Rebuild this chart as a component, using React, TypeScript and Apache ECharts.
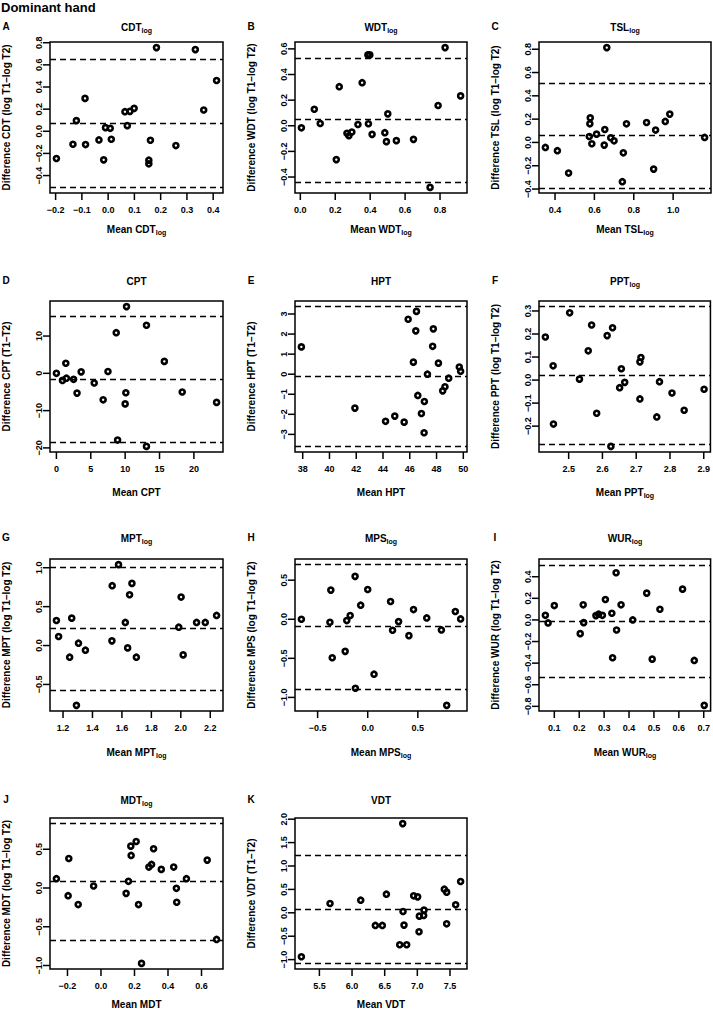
import React, { useEffect, useRef } from "react";
import * as echarts from "echarts";

// ---------- DATA ----------
// A: CDT (log)
const cdtMean = [-0.197, -0.134, -0.121, -0.088, -0.086, -0.035, -0.017, -0.01, 0.008, 0.012, 0.064, 0.073, 0.083, 0.099, 0.155, 0.155, 0.161, 0.184, 0.258, 0.332, 0.364, 0.413];
const cdtDiff = [-0.246, -0.117, 0.096, 0.297, -0.12, -0.078, -0.258, 0.033, 0.027, -0.072, 0.177, 0.051, 0.18, 0.207, -0.261, -0.294, -0.081, 0.756, -0.129, 0.738, 0.192, 0.459];
const cdtLoA = [0.648, 0.072, -0.507];
const cdtXTicks = [-0.2, -0.1, 0, 0.1, 0.2, 0.3, 0.4];
const cdtYTicks = [-0.4, -0.2, 0, 0.2, 0.4, 0.6, 0.8];

// B: WDT (log)
const wdtMean = [0.006, 0.08, 0.114, 0.206, 0.223, 0.267, 0.278, 0.295, 0.33, 0.354, 0.387, 0.398, 0.39, 0.411, 0.484, 0.493, 0.501, 0.55, 0.648, 0.743, 0.789, 0.829, 0.918];
const wdtDiff = [-0.016, 0.129, 0.018, -0.264, 0.305, -0.059, -0.078, -0.049, 0.01, 0.336, 0.553, 0.553, 0.016, -0.067, -0.054, -0.124, 0.093, -0.116, -0.106, -0.481, 0.158, 0.61, 0.233];
const wdtLoA = [0.532, 0.052, -0.439];
const wdtXTicks = [0, 0.2, 0.4, 0.6, 0.8];
const wdtYTicks = [-0.4, -0.2, 0, 0.2, 0.4, 0.6];

// C: TSL (log)
const tslMean = [0.351, 0.412, 0.469, 0.579, 0.577, 0.574, 0.587, 0.611, 0.663, 0.653, 0.65, 0.683, 0.7, 0.763, 0.747, 0.742, 0.865, 0.911, 0.901, 0.96, 0.983, 1.16];
const tslDiff = [-0.043, -0.071, -0.263, 0.211, 0.16, 0.051, -0.011, 0.071, 0.814, 0.111, -0.023, 0.04, 0.014, 0.16, -0.089, -0.337, 0.171, 0.106, -0.229, 0.18, 0.243, 0.043];
const tslLoA = [0.506, 0.063, -0.386];
const tslXTicks = [0.4, 0.6, 0.8, 1.0];
const tslYTicks = [-0.4, -0.2, 0, 0.2, 0.4, 0.6, 0.8];

// D: CPT
const cptMean = [0, 0.88, 1.37, 1.46, 2.5, 3.0, 3.6, 5.5, 6.8, 7.5, 8.7, 8.9, 10.0, 10.1, 10.2, 13.1, 13.1, 15.7, 18.3, 23.3];
const cptDiff = [0, -1.9, 2.7, -1.3, -1.6, -5.3, 0.4, -2.6, -7.1, 0.5, 10.9, -17.9, -8.2, -5.2, 17.9, 12.9, -19.6, 3.2, -5.0, -7.8];
const cptLoA = [15.3, -1.6, -18.4];
const cptXTicks = [0, 5, 10, 15, 20];
const cptYTicks = [-20, -10, 0, 10];

// E: HPT
const hptMean = [37.9, 41.9, 44.19, 44.88, 45.58, 45.88, 46.27, 46.45, 46.5, 46.6, 46.87, 47.07, 47.09, 47.32, 47.71, 47.76, 48.14, 48.46, 48.63, 48.91, 49.7, 49.8];
const hptDiff = [1.36, -1.69, -2.35, -2.09, -2.39, 2.74, 0.6, 2.16, 3.13, -1.06, -1.96, -2.92, -1.36, 0.0, 1.39, 2.26, 0.55, -0.83, -0.63, -0.2, 0.36, 0.15];
const hptLoA = [3.37, -0.12, -3.6];
const hptXTicks = [38, 40, 42, 44, 46, 48, 50];
const hptYTicks = [-3, -2, -1, 0, 1, 2, 3];

// F: PPT (log)
const pptMean = [2.431, 2.454, 2.455, 2.503, 2.532, 2.558, 2.568, 2.583, 2.614, 2.63, 2.625, 2.651, 2.656, 2.666, 2.711, 2.714, 2.711, 2.761, 2.769, 2.806, 2.842, 2.901];
const pptDiff = [0.187, 0.062, -0.191, 0.292, 0.004, 0.127, 0.239, -0.144, 0.193, 0.227, -0.288, -0.033, 0.049, -0.01, 0.079, 0.098, -0.082, -0.16, -0.007, -0.056, -0.131, -0.04];
const pptLoA = [0.319, 0.019, -0.282];
const pptXTicks = [2.5, 2.6, 2.7, 2.8, 2.9];
const pptYTicks = [-0.2, -0.1, 0, 0.1, 0.2, 0.3];

// G: MPT (log)
const mptMean = [1.155, 1.17, 1.245, 1.259, 1.291, 1.305, 1.352, 1.534, 1.532, 1.577, 1.623, 1.639, 1.652, 1.668, 1.698, 1.986, 2.002, 2.016, 2.107, 2.166, 2.243];
const mptDiff = [0.322, 0.116, -0.15, 0.352, -0.769, 0.03, -0.06, 0.769, 0.06, 1.04, 0.297, -0.03, 0.653, 0.799, -0.15, 0.236, 0.623, -0.12, 0.297, 0.297, 0.387];
const mptLoA = [1.014, 0.223, -0.567];
const mptXTicks = [1.2, 1.4, 1.6, 1.8, 2.0, 2.2];
const mptYTicks = [-0.5, 0, 0.5, 1.0];

// H: MPS (log)
const mpsMean = [-0.662, -0.377, -0.368, -0.354, -0.225, -0.209, -0.175, -0.126, -0.123, -0.07, 0.0, 0.063, 0.228, 0.248, 0.308, 0.411, 0.457, 0.589, 0.735, 0.788, 0.874, 0.927];
const mpsDiff = [0.0, -0.039, 0.373, -0.493, -0.411, -0.017, 0.047, 0.549, -0.883, 0.18, 0.381, -0.703, 0.227, -0.141, -0.03, -0.21, 0.124, 0.017, -0.137, -1.102, 0.099, 0.004];
const mpsLoA = [0.699, -0.094, -0.896];
const mpsXTicks = [-0.5, 0, 0.5];
const mpsYTicks = [-1.0, -0.5, 0, 0.5];

// I: WUR (log)
const wurMean = [0.064, 0.075, 0.1, 0.204, 0.216, 0.218, 0.267, 0.278, 0.293, 0.305, 0.331, 0.334, 0.348, 0.35, 0.368, 0.415, 0.471, 0.493, 0.524, 0.615, 0.662, 0.702];
const wurDiff = [0.043, -0.028, 0.133, -0.127, 0.14, -0.025, 0.04, 0.053, 0.043, 0.189, 0.062, -0.35, 0.437, -0.093, 0.14, 0.0, 0.248, -0.363, 0.099, 0.285, -0.375, -0.791];
const wurLoA = [0.512, -0.009, -0.533];
const wurXTicks = [0.1, 0.2, 0.3, 0.4, 0.5, 0.6, 0.7];
const wurYTicks = [-0.8, -0.6, -0.4, -0.2, 0, 0.2, 0.4];

// J: MDT (log)
const mdtMean = [-0.266, -0.192, -0.196, -0.136, -0.044, 0.15, 0.164, 0.178, 0.18, 0.21, 0.224, 0.242, 0.286, 0.302, 0.314, 0.36, 0.434, 0.45, 0.452, 0.51, 0.634, 0.69];
const mdtDiff = [0.12, 0.381, -0.099, -0.214, 0.026, -0.069, 0.086, 0.54, 0.42, 0.6, -0.214, -0.973, 0.27, 0.304, 0.506, 0.24, 0.27, -0.004, -0.184, 0.12, 0.36, -0.664];
const mdtLoA = [0.831, 0.086, -0.669];
const mdtXTicks = [-0.2, 0, 0.2, 0.4, 0.6];
const mdtYTicks = [-1.0, -0.5, 0, 0.5];

// K: VDT
const vdtMean = [5.224, 5.663, 6.133, 6.357, 6.464, 6.526, 6.73, 6.776, 6.781, 6.796, 6.837, 6.944, 7.005, 7.026, 7.031, 7.097, 7.102, 7.413, 7.449, 7.449, 7.587, 7.663];
const vdtDiff = [-0.939, 0.199, 0.27, -0.27, -0.27, 0.398, -0.683, 1.906, 0.028, -0.263, -0.683, 0.363, 0.341, -0.405, -0.071, -0.057, 0.057, 0.505, 0.441, -0.235, 0.171, 0.669];
const vdtLoA = [1.216, 0.071, -1.081];
const vdtXTicks = [5.5, 6.0, 6.5, 7.0, 7.5];
const vdtYTicks = [-1.0, -0.5, 0, 0.5, 1.0, 1.5, 2.0];

const panelLetters = ["A", "B", "C", "D", "E", "F", "G", "H", "I", "J", "K"];
const panelTitles = ["CDT", "WDT", "TSL", "CPT", "HPT", "PPT", "MPT", "MPS", "WUR", "MDT", "VDT"];
const titleSubs = ["log", "log", "log", "", "", "log", "log", "log", "log", "log", ""];
const xNameSubs = ["log", "log", "log", "", "", "log", "log", "log", "log", "", ""];
const yNames = [
  "Difference CDT (log T1–log T2)",
  "Difference WDT (log T1–log T2)",
  "Difference TSL (log T1–log T2)",
  "Difference CPT (T1–T2)",
  "Difference HPT (T1–T2)",
  "Difference PPT (log T1–log T2)",
  "Difference MPT (log T1–log T2)",
  "Difference MPS (log T1–log T2)",
  "Difference WUR (log T1–log T2)",
  "Difference MDT (log T1–log T2)",
  "Difference VDT (T1–T2)",
];
const xDecimals = [1, 1, 1, 0, 0, 1, 1, 1, 1, 1, 1];
const yDecimals = [1, 1, 1, 0, 0, 1, 1, 1, 1, 1, 1];

const means = [cdtMean, wdtMean, tslMean, cptMean, hptMean, pptMean, mptMean, mpsMean, wurMean, mdtMean, vdtMean];
const diffs = [cdtDiff, wdtDiff, tslDiff, cptDiff, hptDiff, pptDiff, mptDiff, mpsDiff, wurDiff, mdtDiff, vdtDiff];
const loas = [cdtLoA, wdtLoA, tslLoA, cptLoA, hptLoA, pptLoA, mptLoA, mpsLoA, wurLoA, mdtLoA, vdtLoA];
const xTickSets = [cdtXTicks, wdtXTicks, tslXTicks, cptXTicks, hptXTicks, pptXTicks, mptXTicks, mpsXTicks, wurXTicks, mdtXTicks, vdtXTicks];
const yTickSets = [cdtYTicks, wdtYTicks, tslYTicks, cptYTicks, hptYTicks, pptYTicks, mptYTicks, mpsYTicks, wurYTicks, mdtYTicks, vdtYTicks];

// ---------- LAYOUT ----------
const W = 713;
const H = 1012;
const colLeft = [50, 295, 539];
const colWidth = [173, 172, 172];
const rowTop = [42, 301, 559, 818];
const rowHeight = [151, 151, 152, 151];
const titleY = [27, 281, 538, 800];
const xNameY = [229, 492, 752, 1004];
const TICK_LEN = 7;
const FONT = '"Liberation Sans", Arial, Helvetica, sans-serif';

function padRange(vals: number[]): [number, number] {
  const lo = Math.min(...vals);
  const hi = Math.max(...vals);
  const e = (hi - lo) * 0.04;
  return [lo - e, hi + e];
}

function fmt(v: number, dec: number): string {
  const s = Math.abs(v) < 1e-9 ? (0).toFixed(dec) : v.toFixed(dec);
  return s.replace("-", "\u2212");
}

function subText(main: string, sub: string, size: number, subSize: number) {
  return {
    text: sub ? `{m|${main}}{s|${sub}}` : `{m|${main}}`,
    rich: {
      m: { fontSize: size, fontWeight: "bold", fontFamily: FONT, fill: "#000", lineHeight: 14 },
      s: { fontSize: subSize, fontWeight: "bold", fontFamily: FONT, fill: "#000", lineHeight: 7, verticalAlign: "bottom" },
    },
  };
}

function buildOption() {
  const grids: any[] = [];
  const xAxes: any[] = [];
  const yAxes: any[] = [];
  const series: any[] = [];
  const graphics: any[] = [];

  graphics.push({
    type: "text",
    x: 1,
    y: 7,
    style: { text: "Dominant hand", fontSize: 13, fontWeight: "bold", fontFamily: FONT, fill: "#000", align: "left", verticalAlign: "middle" },
  });

  for (let i = 0; i < 11; i++) {
    const r = Math.floor(i / 3);
    const c = i % 3;
    const left = colLeft[c];
    const width = colWidth[c];
    const top = rowTop[r];
    const height = rowHeight[r];
    const [xmin, xmax] = padRange(means[i]);
    const [ymin, ymax] = padRange([...diffs[i], ...loas[i]]);
    const xd = xDecimals[i];
    const yd = yDecimals[i];

    grids.push({ left, top, width, height, show: true, borderColor: "#000", borderWidth: 1.5, backgroundColor: "transparent" });

    xAxes.push({
      type: "value",
      gridIndex: i,
      position: "bottom",
      min: xmin,
      max: xmax,
      axisLine: { show: false, onZero: false },
      splitLine: { show: false },
      axisTick: { show: false },
      axisLabel: {
        customValues: xTickSets[i],
        formatter: (v: number) => fmt(v, xd),
        margin: 12,
        color: "#000",
        fontSize: 9,
        fontWeight: "bold",
        fontFamily: FONT,
      },
    });
    yAxes.push({
      type: "value",
      gridIndex: i,
      position: "left",
      min: ymin,
      max: ymax,
      axisLine: { show: false, onZero: false },
      splitLine: { show: false },
      axisTick: { show: false },
      axisLabel: {
        customValues: yTickSets[i],
        formatter: (v: number) => fmt(v, yd),
        rotate: 90,
        margin: 7,
        color: "#000",
        fontSize: 9,
        fontWeight: "bold",
        fontFamily: FONT,
      },
    });

    series.push({
      type: "scatter",
      xAxisIndex: i,
      yAxisIndex: i,
      data: means[i].map((m, k) => [m, diffs[i][k]]),
      symbol: "circle",
      symbolSize: 5,
      itemStyle: { color: "rgba(0,0,0,0)", borderColor: "#000", borderWidth: 2.6, opacity: 1 },
      silent: true,
      z: 3,
      markLine: {
        silent: true,
        symbol: ["none", "none"],
        label: { show: false },
        lineStyle: { color: "#000", type: [6, 4], width: 1.3, opacity: 1 },
        emphasis: { disabled: true },
        data: loas[i].map((v) => ({ yAxis: v })),
      },
    });

    const cx = left + width / 2;
    const cy = top + height / 2;
    const labelX = left - 44;

    graphics.push({
      type: "text",
      x: labelX,
      y: titleY[r] - 1,
      style: { text: panelLetters[i], fontSize: 10, fontWeight: "bold", fontFamily: FONT, fill: "#000", align: "center", verticalAlign: "middle" },
    });
    graphics.push({
      type: "text",
      x: cx,
      y: titleY[r],
      style: { ...subText(panelTitles[i], titleSubs[i], 10, 7), align: "center", verticalAlign: "middle", fill: "#000" },
    });
    graphics.push({
      type: "text",
      x: cx,
      y: xNameY[r],
      style: { ...subText("Mean " + panelTitles[i], xNameSubs[i], 10, 7), align: "center", verticalAlign: "middle", fill: "#000" },
    });
    graphics.push({
      type: "text",
      x: labelX,
      y: cy,
      rotation: Math.PI / 2,
      style: { text: yNames[i], fontSize: 10, fontWeight: "bold", fontFamily: FONT, fill: "#000", align: "center", verticalAlign: "middle" },
    });
  }

  return {
    animation: false,
    backgroundColor: "#fff",
    grid: grids,
    xAxis: xAxes,
    yAxis: yAxes,
    series,
    graphic: { elements: graphics },
  };
}

// Tick marks: positions come from the library's own axis scales (convertToPixel).
function buildTicks(chart: echarts.ECharts) {
  const ticks: any[] = [];
  for (let i = 0; i < 11; i++) {
    const r = Math.floor(i / 3);
    const c = i % 3;
    const boxLeft = colLeft[c];
    const boxBottom = rowTop[r] + rowHeight[r];
    xTickSets[i].forEach((v) => {
      const px = chart.convertToPixel({ xAxisIndex: i } as any, v) as unknown as number;
      ticks.push({
        type: "line",
        silent: true,
        z: 10,
        shape: { x1: px, y1: boxBottom, x2: px, y2: boxBottom + TICK_LEN },
        style: { stroke: "#000", lineWidth: 1.5 },
      });
    });
    yTickSets[i].forEach((v) => {
      const py = chart.convertToPixel({ yAxisIndex: i } as any, v) as unknown as number;
      ticks.push({
        type: "line",
        silent: true,
        z: 10,
        shape: { x1: boxLeft, y1: py, x2: boxLeft - TICK_LEN, y2: py },
        style: { stroke: "#000", lineWidth: 1.5 },
      });
    });
  }
  return ticks;
}

export default function App() {
  const ref = useRef<HTMLDivElement>(null);
  useEffect(() => {
    document.body.style.margin = "0";
    if (!ref.current) return;
    const chart = echarts.init(ref.current, null, { renderer: "svg" });
    const option: any = buildOption();
    chart.setOption(option);
    const tickEls = buildTicks(chart);
    chart.setOption({ graphic: { elements: [...option.graphic.elements, ...tickEls] } });
    return () => chart.dispose();
  }, []);
  return <div ref={ref} style={{ width: W, height: H }} />;
}
